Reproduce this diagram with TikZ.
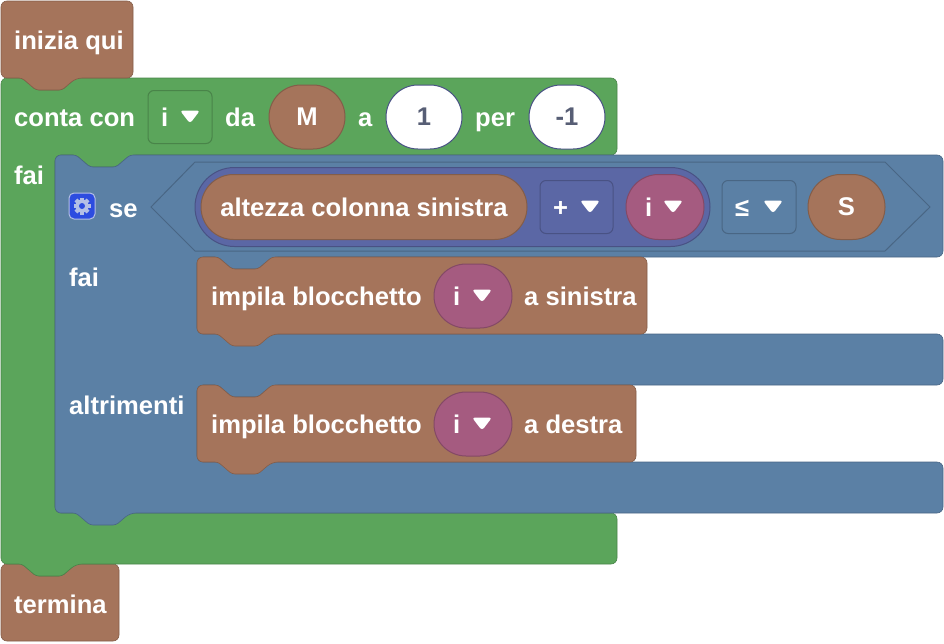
\documentclass[tikz,border=0pt]{standalone}
\usepackage{fontspec}
\setmainfont{Liberation Sans}

\definecolor{brownblock}{HTML}{A5745B}
\definecolor{brownline}{HTML}{845D49}
\definecolor{greenblock}{HTML}{5BA55B}
\definecolor{greenline}{HTML}{498449}
\definecolor{blueblock}{HTML}{5B80A5}
\definecolor{blueline}{HTML}{496684}
\definecolor{purpleblock}{HTML}{5B67A5}
\definecolor{purpleline}{HTML}{495284}
\definecolor{pinkblock}{HTML}{A55B80}
\definecolor{pinkline}{HTML}{844966}
\definecolor{numtext}{HTML}{575E75}
\definecolor{gearblue}{HTML}{2D4CE0}
\definecolor{gearlight}{HTML}{B4BFE6}

% dent in a top edge, bump under a bottom edge
\newcommand{\notchtop}[2]{[rounded corners=3] -- (#1+21,#2) -- (#1+35,#2+12) -- (#1+61,#2+12) -- (#1+75,#2) [rounded corners=6]}
\newcommand{\notchbot}[2]{[rounded corners=6] -- (#1+75,#2) [rounded corners=3] -- (#1+61,#2+12) -- (#1+35,#2+12) -- (#1+21,#2) [rounded corners=6]}
\newcommand{\caret}[2]{\fill[white,rounded corners=3] (#1-10,#2-5.5) -- (#1+10,#2-5.5) -- (#1,#2+7.5) -- cycle;}

\begin{document}
\begin{tikzpicture}[x=1pt,y=-1pt]
\tikzstyle{block}=[rounded corners=6,line width=0.6pt]
\tikzstyle{word}=[inner sep=0,text=white,anchor=base west,yshift=-9pt,font=\fontsize{25.6}{30}\bfseries]
\tikzstyle{pill}=[rectangle,draw,rounded corners=32,inner sep=0,line width=1pt,text=white,minimum height=64,font=\fontsize{25.6}{30}\bfseries]
\tikzstyle{drop}=[rectangle,draw,rounded corners=6,inner sep=0,line width=1pt,minimum height=53]
\useasboundingbox (0,0) rectangle (944,643);

% stack, back to front
\draw[block,fill=brownblock,draw=brownline] (1,564) \notchtop{1}{564} -- (119,564) -- (119,641) -- (1,641) -- cycle;
\draw[block,fill=greenblock,draw=greenline] (1,78) \notchtop{1}{78} -- (617,78) -- (617,155) \notchbot{55}{155} -- (55,155) -- (55,513) -- (617,513) -- (617,564) \notchbot{1}{564} -- (1,564) -- cycle;
\draw[block,fill=brownblock,draw=brownline] (1,1) -- (133,1) -- (133,78) \notchbot{1}{78} -- (1,78) -- cycle;
\draw[block,fill=blueblock,draw=blueline] (55,155) \notchtop{55}{155} -- (943,155) -- (943,257) \notchbot{197}{257} -- (197,257) -- (197,334) -- (943,334) -- (943,385) \notchbot{197}{385} -- (197,385) -- (197,462) -- (943,462) -- (943,513) \notchbot{55}{513} -- (55,513) -- cycle;
\draw[block,fill=brownblock,draw=brownline] (197,257) \notchtop{197}{257} -- (647,257) -- (647,334) \notchbot{197}{334} -- (197,334) -- cycle;
\draw[block,fill=brownblock,draw=brownline] (197,385) \notchtop{197}{385} -- (636,385) -- (636,462) \notchbot{197}{462} -- (197,462) -- cycle;

\node[word] (start) at (14,40) {inizia qui};
\node[word] (stop) at (14,604) {termina};

% loop header
\node[word] (count) at (14,117) {conta con};
\node[drop,draw=greenline,minimum width=64] (countvar) at (180,117) {};
\node[word] (countname) at (161,117) {i};
\caret{190}{116}
\node[word] (from) at (225,117) {da};
\node[pill,fill=brownblock,draw=brownline,minimum width=76] (m) at (307,117) {M};
\node[word] (to) at (358,117) {a};
\node[pill,fill=white,draw=purpleline,text=numtext,minimum width=76] (one) at (424,117) {1};
\node[word] (by) at (475,117) {per};
\node[pill,fill=white,draw=purpleline,text=numtext,minimum width=76] (minusone) at (567,117) {-1};
\node[word] (loopdo) at (14,175) {fai};

% gear
\draw[rounded corners=5,fill=gearblue,draw=gearlight,line width=1pt] (69,193) rectangle (95,219);
\foreach \a in {0,45,...,135} {
\fill[gearlight,rotate around={\a:(82,206)}] (80,197.5) rectangle (84,214.5);
}
\fill[gearlight] (82,206) circle (6.5);
\fill[gearblue] (82,206) circle (3);

% test
\node[word] (test) at (109,208) {se};
\draw[fill=blueblock,draw=blueline,line width=1pt] (151,207) -- (195,162) -- (885,162) -- (930,207) -- (885,251) -- (195,251) -- cycle;
\node[pill,fill=purpleblock,draw=purpleline,rounded corners=39.5,minimum width=515,minimum height=79] (sum) at (452.5,207) {};
\node[pill,fill=brownblock,draw=brownline,minimum width=326,minimum height=65,rounded corners=32.5] (height) at (364,207) {altezza colonna sinistra};
\node[drop,fill=purpleblock,draw=purpleline,minimum width=73] (plus) at (576.5,207) {};
\node[word] (plusname) at (553,207) {+};
\caret{590}{206}
\node[pill,fill=pinkblock,draw=pinkline,minimum width=78,minimum height=65,rounded corners=32.5] (itest) at (665,207) {};
\node[word] (itestname) at (645,207) {i};
\caret{673}{206}
\node[drop,draw=blueline,minimum width=74] (leq) at (759,207) {};
\node[word] (leqname) at (735,207) {≤};
\caret{773}{206}
\node[pill,fill=brownblock,draw=brownline,minimum width=77,minimum height=65,rounded corners=32.5] (s) at (846.5,207) {S};

% first branch
\node[word] (thendo) at (69,277) {fai};
\node[word] (pushleft) at (211,296) {impila blocchetto};
\node[pill,fill=pinkblock,draw=pinkline,minimum width=78] (ileft) at (473,296) {};
\node[word] (ileftname) at (453,296) {i};
\caret{482}{295}
\node[word] (left) at (524,296) {a sinistra};

% second branch
\node[word] (elsedo) at (69,405) {altrimenti};
\node[word] (pushright) at (211,424) {impila blocchetto};
\node[pill,fill=pinkblock,draw=pinkline,minimum width=78] (iright) at (473,424) {};
\node[word] (irightname) at (453,424) {i};
\caret{482}{423}
\node[word] (right) at (524,424) {a destra};
\end{tikzpicture}
\end{document}
